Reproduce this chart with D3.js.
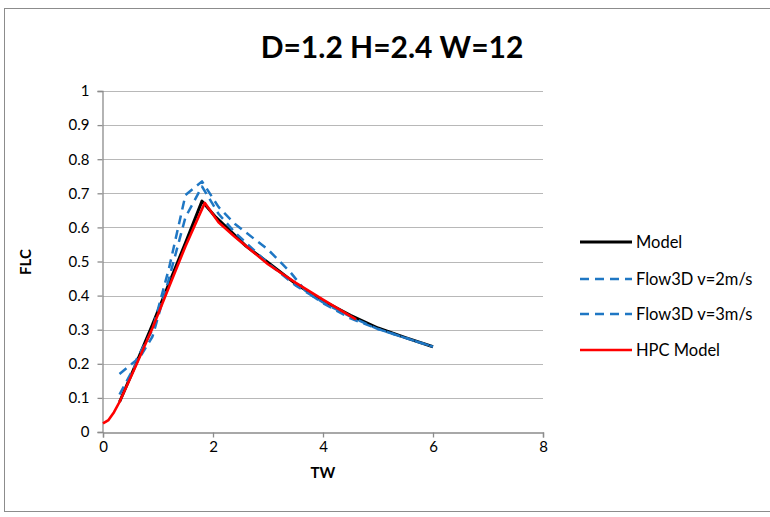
<!DOCTYPE html>
<html><head><meta charset="utf-8">
<script src="https://d3js.org/d3.v7.min.js"></script>
<style>body{margin:0;background:#fff;} text{font-family:Lato,"Open Sans",sans-serif;}</style>
</head><body>
<svg id="c" width="770" height="517"></svg>
<script>
const title = "D=1.2 H=2.4 W=12";
const xTicks = [0, 2, 4, 6, 8];
const yTicks = [0, 0.1, 0.2, 0.3, 0.4, 0.5, 0.6, 0.7, 0.8, 0.9, 1];
const seriesNames = ["Model", "Flow3D v=2m/s", "Flow3D v=3m/s", "HPC Model"];
const modelTW  = [0.3, 0.6, 0.9, 1.2, 1.5, 1.8, 2.05, 2.3, 2.6, 3.0, 3.5, 4.0, 4.5, 5.0, 5.5, 6.0];
const modelFLC = [0.088, 0.2, 0.315, 0.435, 0.555, 0.677, 0.63, 0.592, 0.545, 0.497, 0.435, 0.385, 0.342, 0.305, 0.277, 0.25];
const v2TW  = [0.3, 0.6, 0.9, 1.2, 1.5, 1.8, 2.1, 2.4, 3.0, 3.4, 3.7, 4.0, 4.5, 5.0, 6.0];
const v2FLC = [0.17, 0.21, 0.30, 0.48, 0.695, 0.735, 0.66, 0.61, 0.535, 0.47, 0.41, 0.378, 0.333, 0.302, 0.25];
const v3TW  = [0.3, 0.6, 0.9, 1.2, 1.5, 1.8, 2.1, 2.4, 3.0, 3.5, 4.0, 4.5, 5.0, 6.0];
const v3FLC = [0.11, 0.2, 0.28, 0.45, 0.63, 0.72, 0.64, 0.585, 0.495, 0.43, 0.38, 0.338, 0.302, 0.25];
const hpcTW  = [0, 0.1, 0.2, 0.3, 0.6, 0.9, 1.2, 1.5, 1.85, 2.1, 2.4, 3.0, 3.5, 4.0, 4.6];
const hpcFLC = [0.025, 0.035, 0.058, 0.088, 0.195, 0.305, 0.425, 0.545, 0.672, 0.615, 0.572, 0.492, 0.438, 0.388, 0.33];

const svg = d3.select("#c");
svg.append("rect").attr("x",4.5).attr("y",8.5).attr("width",800).attr("height",503)
  .attr("fill","#fff").attr("stroke","#8c8c8c").attr("stroke-width",1);

const x = d3.scaleLinear().domain([0, 8]).range([103, 543]);
const y = d3.scaleLinear().domain([0, 1]).range([432, 91]);

// gridlines
svg.append("g").selectAll("line").data(yTicks.slice(1)).join("line")
  .attr("x1", x(0)).attr("x2", x(8))
  .attr("y1", d => Math.round(y(d))+0.5).attr("y2", d => Math.round(y(d))+0.5)
  .attr("stroke", "#b8b8b8").attr("stroke-width", 1.2);

const yAxis = svg.append("g").attr("transform", `translate(${x(0)-0.5},0)`)
  .call(d3.axisLeft(y).tickValues(yTicks).tickFormat(d3.format("")).tickSize(5).tickPadding(8));
const xAxis = svg.append("g").attr("transform", `translate(0,${y(0)+0.5})`)
  .call(d3.axisBottom(x).tickValues(xTicks).tickFormat(d3.format("")).tickSize(5).tickPadding(4));
[yAxis, xAxis].forEach(a => {
  a.select(".domain").attr("stroke", "#8c8c8c").attr("stroke-width", 1.3);
  a.selectAll(".tick line").attr("stroke", "#8c8c8c").attr("stroke-width", 1.3);
  a.selectAll(".tick text").attr("font-size", 15).attr("fill", "#000")
   .style("font-family", "Lato, 'Open Sans', sans-serif");
});

const line = d3.line().x(d => x(d[0])).y(d => y(d[1]));
const zip = (a, b) => a.map((v, i) => [v, b[i]]);
const styles = [
  {data: zip(modelTW, modelFLC), color: "#000000", w: 3, dash: null},
  {data: zip(v2TW, v2FLC), color: "#1f77c4", w: 2.5, dash: "9,6"},
  {data: zip(v3TW, v3FLC), color: "#1f77c4", w: 2.5, dash: "9,6"},
  {data: zip(hpcTW, hpcFLC), color: "#ff0000", w: 2.6, dash: null}
];
styles.forEach(s => {
  svg.append("path").datum(s.data).attr("d", line).attr("fill", "none")
    .attr("stroke", s.color).attr("stroke-width", s.w)
    .attr("stroke-dasharray", s.dash).attr("stroke-linejoin", "round");
});

// titles
svg.append("text").attr("x", 392).attr("y", 58).attr("text-anchor", "middle")
  .attr("font-size", 30).attr("font-weight", "bold").text(title);
svg.append("text").attr("x", 323).attr("y", 478).attr("text-anchor", "middle")
  .attr("font-size", 15).attr("font-weight", "bold").text("TW");
svg.append("text").attr("transform", "translate(31,262) rotate(-90)").attr("text-anchor", "middle")
  .attr("font-size", 15).attr("font-weight", "bold").text("FLC");

// legend
const legY = [242, 279, 314, 350];
const lg = svg.append("g");
seriesNames.forEach((n, i) => {
  const s = styles[i];
  lg.append("line").attr("x1", 580).attr("x2", 632).attr("y1", legY[i]).attr("y2", legY[i])
    .attr("stroke", s.color).attr("stroke-width", s.w).attr("stroke-dasharray", s.dash);
  lg.append("text").attr("x", 636).attr("y", legY[i] + 6).attr("font-size", 16.5).text(n);
});
</script>
</body></html>
